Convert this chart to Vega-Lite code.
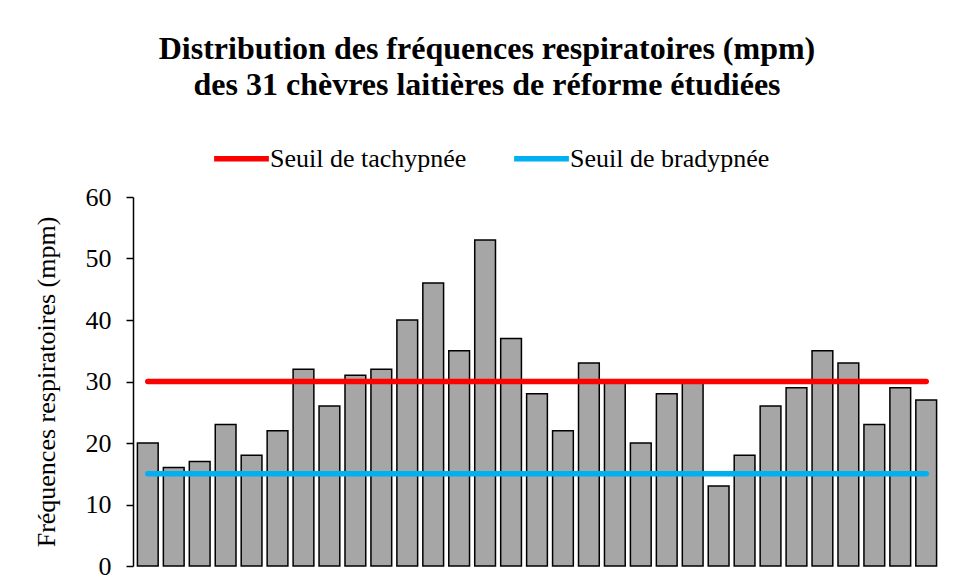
{
  "$schema": "https://vega.github.io/schema/vega-lite/v6.json",
  "width": 808,
  "height": 369,
  "autosize": {"type": "none"},
  "padding": {"left": 133, "top": 197, "right": 17, "bottom": 19},
  "background": "white",
  "title": {
    "text": ["Distribution des fréquences respiratoires (mpm)", "des 31 chèvres laitières de réforme étudiées"],
    "font": "Liberation Serif",
    "fontSize": 32,
    "fontWeight": "bold",
    "lineHeight": 36,
    "color": "black",
    "anchor": "middle",
    "frame": "bounds",
    "offset": 26
  },
  "config": {
    "font": "Liberation Serif",
    "view": {"stroke": null},
    "axis": {"labelFont": "Liberation Serif", "titleFont": "Liberation Serif", "labelColor": "black", "titleColor": "black"},
    "legend": {"labelFont": "Liberation Serif"}
  },
  "layer": [
    {
      "data": {"values": [
        {"chevre": 1, "fr": 20}, {"chevre": 2, "fr": 16}, {"chevre": 3, "fr": 17}, {"chevre": 4, "fr": 23},
        {"chevre": 5, "fr": 18}, {"chevre": 6, "fr": 22}, {"chevre": 7, "fr": 32}, {"chevre": 8, "fr": 26},
        {"chevre": 9, "fr": 31}, {"chevre": 10, "fr": 32}, {"chevre": 11, "fr": 40}, {"chevre": 12, "fr": 46},
        {"chevre": 13, "fr": 35}, {"chevre": 14, "fr": 53}, {"chevre": 15, "fr": 37}, {"chevre": 16, "fr": 28},
        {"chevre": 17, "fr": 22}, {"chevre": 18, "fr": 33}, {"chevre": 19, "fr": 30}, {"chevre": 20, "fr": 20},
        {"chevre": 21, "fr": 28}, {"chevre": 22, "fr": 30}, {"chevre": 23, "fr": 13}, {"chevre": 24, "fr": 18},
        {"chevre": 25, "fr": 26}, {"chevre": 26, "fr": 29}, {"chevre": 27, "fr": 35}, {"chevre": 28, "fr": 33},
        {"chevre": 29, "fr": 23}, {"chevre": 30, "fr": 29}, {"chevre": 31, "fr": 27}
      ]},
      "mark": {"type": "bar", "fill": "#a6a6a6", "stroke": "black", "strokeWidth": 1.5},
      "encoding": {
        "x": {"field": "chevre", "type": "ordinal", "axis": null,
              "scale": {"paddingInner": 0.2, "paddingOuter": 0.17}},
        "y": {"field": "fr", "type": "quantitative",
              "scale": {"domain": [0, 60], "nice": false},
              "axis": {"title": "Fréquences respiratoires (mpm)", "values": [0, 10, 20, 30, 40, 50, 60],
                       "grid": false, "domainColor": "black", "domainWidth": 1.5,
                       "tickColor": "black", "tickWidth": 1.5, "tickSize": 7,
                       "labelFontSize": 26, "labelPadding": 15,
                       "titleFontSize": 26, "titleFontWeight": "normal", "titlePadding": 26}}
      }
    },
    {
      "data": {"values": [
        {"chevre": 1, "seuil": "Seuil de tachypnée", "v": 30},
        {"chevre": 31, "seuil": "Seuil de tachypnée", "v": 30},
        {"chevre": 1, "seuil": "Seuil de bradypnée", "v": 15},
        {"chevre": 31, "seuil": "Seuil de bradypnée", "v": 15}
      ]},
      "mark": {"type": "line", "strokeWidth": 5.5, "strokeCap": "round"},
      "encoding": {
        "x": {"field": "chevre", "type": "ordinal"},
        "y": {"field": "v", "type": "quantitative"},
        "color": {"field": "seuil", "type": "nominal",
                  "scale": {"domain": ["Seuil de tachypnée", "Seuil de bradypnée"], "range": ["#ff0000", "#00b0f0"]},
                  "legend": {"title": null, "orient": "none", "direction": "horizontal",
                             "legendX": 78, "legendY": -69,
                             "symbolType": "stroke", "symbolSize": 3000, "symbolStrokeWidth": 5.5,
                             "labelFont": "Liberation Serif", "labelFontSize": 26, "labelColor": "black",
                             "labelOffset": -2, "columnPadding": 36, "labelLimit": 400}}
      }
    }
  ]
}
